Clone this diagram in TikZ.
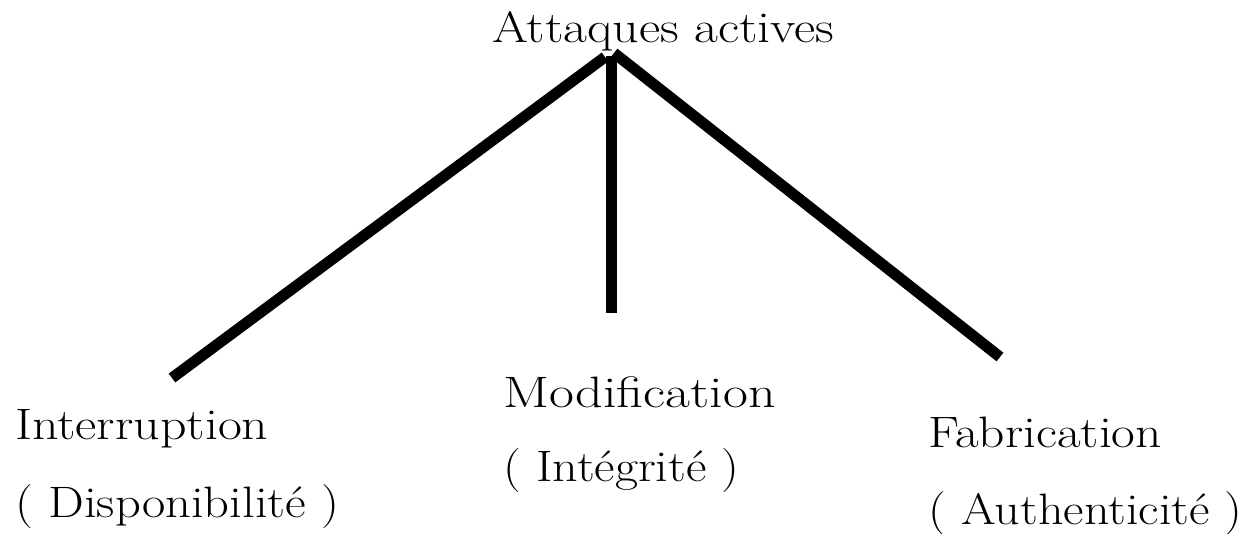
\documentclass[tikz,border=0pt]{standalone}
\newcommand\wtxt[2]{\scalebox{#1}[1]{#2}}
\begin{document}
\begin{tikzpicture}[x=0.75pt,y=-0.75pt,
  lbl/.style={inner sep=0pt,anchor=base west,font=\fontsize{33}{39}\selectfont},
  branch/.style={line width=8.25pt,line cap=butt}]
\useasboundingbox (0,0) rectangle (1247,534);
\node[lbl] (root) at (492,43) {\wtxt{1.18}{Attaques actives}};
\node[lbl] (int1) at (15,440) {\wtxt{1.18}{Interruption}};
\node[lbl] (int2) at (15,518) {\wtxt{1.15}{( Disponibilité )}};
\node[lbl] (mod1) at (503,408) {\wtxt{1.23}{Modification}};
\node[lbl] (mod2) at (503,482) {\wtxt{1.14}{( Intégrité )}};
\node[lbl] (fab1) at (928,448) {\wtxt{1.17}{Fabrication}};
\node[lbl] (fab2) at (928,525) {\wtxt{1.14}{( Authenticité )}};
\coordinate (topL) at (605,57);
\coordinate (topM) at (611,56);
\coordinate (topR) at (614,53);
\coordinate (endL) at (172,378);
\coordinate (endM) at (611,313);
\coordinate (endR) at (1000,357);
\draw[branch] (topL) -- (endL);
\draw[branch] (topM) -- (endM);
\draw[branch] (topR) -- (endR);
\end{tikzpicture}
\end{document}
